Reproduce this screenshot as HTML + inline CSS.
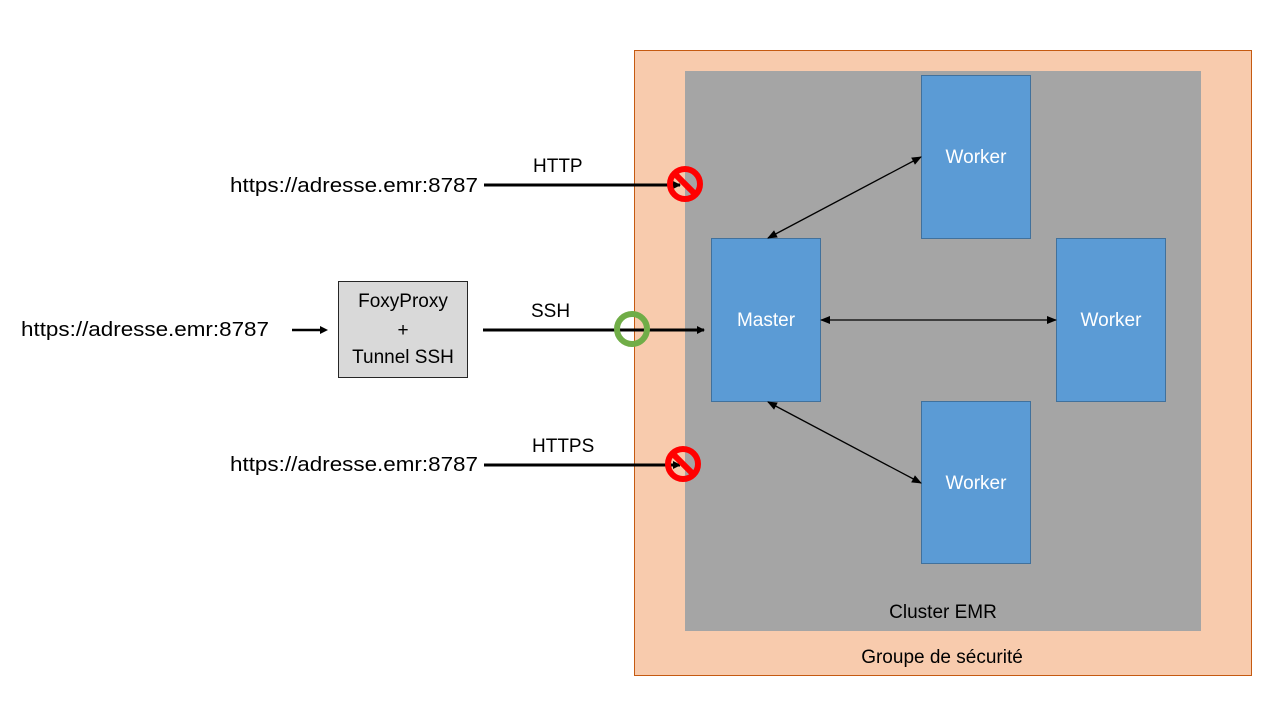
<!DOCTYPE html>
<html><head><meta charset="utf-8"><style>
html,body{margin:0;padding:0;background:#fff;width:1280px;height:720px;overflow:hidden}
svg text{font-family:"Liberation Sans",sans-serif}
</style></head><body>
<svg width="1280" height="720" viewBox="0 0 1280 720" xmlns="http://www.w3.org/2000/svg">
<defs>
<marker id="ab" markerWidth="8" markerHeight="8" refX="7" refY="4" orient="auto" markerUnits="userSpaceOnUse"><path d="M0,0 L8,4 L0,8 z" fill="#000"/></marker>
<marker id="abs" markerWidth="10" markerHeight="8" refX="9" refY="4" orient="auto-start-reverse" markerUnits="userSpaceOnUse"><path d="M0,0 L10,4 L0,8 z" fill="#000"/></marker>
</defs>
<rect x="634.5" y="50.5" width="617" height="625" fill="#f8cbad" stroke="#c55a11" stroke-width="1"/>
<rect x="685" y="71" width="516" height="560" fill="#a5a5a5"/>
<g fill="#5b9bd5" stroke="#41719c" stroke-width="1">
<rect x="921.5" y="75.5" width="109" height="163"/>
<rect x="1056.5" y="238.5" width="109" height="163"/>
<rect x="921.5" y="401.5" width="109" height="162"/>
<rect x="711.5" y="238.5" width="109" height="163"/>
</g>
<g fill="#fff" font-size="19" text-anchor="middle">
<text x="976" y="163">Worker</text>
<text x="1111" y="326">Worker</text>
<text x="976" y="489">Worker</text>
<text x="766" y="326">Master</text>
</g>
<g stroke="#000" stroke-width="1.3" fill="none">
<line x1="768" y1="238" x2="921" y2="157" marker-start="url(#abs)" marker-end="url(#abs)"/>
<line x1="821" y1="320" x2="1056" y2="320" marker-start="url(#abs)" marker-end="url(#abs)"/>
<line x1="768" y1="402" x2="921" y2="483" marker-start="url(#abs)" marker-end="url(#abs)"/>
</g>
<text x="943" y="618" font-size="19" text-anchor="middle" fill="#000">Cluster EMR</text>
<text x="942" y="663" font-size="19" text-anchor="middle" fill="#000">Groupe de sécurité</text>
<g font-size="20" fill="#000">
<text x="230" y="192" textLength="248" lengthAdjust="spacingAndGlyphs">https://adresse.emr:8787</text>
<text x="21" y="336" textLength="248" lengthAdjust="spacingAndGlyphs">https://adresse.emr:8787</text>
<text x="230" y="471" textLength="248" lengthAdjust="spacingAndGlyphs">https://adresse.emr:8787</text>
</g>
<g font-size="19" fill="#000">
<text x="533" y="172">HTTP</text>
<text x="531" y="317">SSH</text>
<text x="532" y="452">HTTPS</text>
</g>
<rect x="338.5" y="281.5" width="129" height="96" fill="#d9d9d9" stroke="#262626" stroke-width="1"/>
<g font-size="19" text-anchor="middle" fill="#000">
<text x="403" y="307">FoxyProxy</text>
<text x="403" y="336">+</text>
<text x="403" y="363">Tunnel SSH</text>
</g>
<g stroke="#000" stroke-width="3" fill="none">
<line x1="484" y1="185" x2="680" y2="185" marker-end="url(#ab)"/>
<line x1="484" y1="465" x2="680" y2="465" marker-end="url(#ab)"/>
<line x1="483" y1="330" x2="704" y2="330" marker-end="url(#ab)"/>
<line x1="292" y1="330" x2="322" y2="330" stroke-width="2.5"/>
</g>
<path d="M320,326 L328,330 L320,334 z" fill="#000"/>
<circle cx="632" cy="329" r="15" fill="none" stroke="#70ad47" stroke-width="6"/>
<g stroke="#ff0000" stroke-width="6" fill="none">
<circle cx="685" cy="184" r="15"/>
<line x1="675" y1="174" x2="695" y2="194"/>
<circle cx="683" cy="464" r="15"/>
<line x1="673" y1="454" x2="693" y2="474"/>
</g>
</svg>
</body></html>
